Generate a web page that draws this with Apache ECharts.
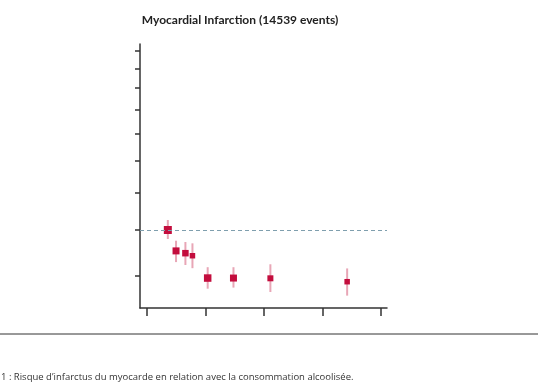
<!DOCTYPE html>
<html><head><meta charset="utf-8">
<script src="https://cdn.jsdelivr.net/npm/echarts@6/dist/echarts.min.js"></script>
<style>html,body{margin:0;padding:0;background:#fff}#c{width:538px;height:384px}</style>
</head><body><div id="c"></div>
<script>
// Data (x: exposure, estimate and 95% CI as ratios)
const xValues   = [3.6, 5.0, 6.6, 7.8, 10.4, 14.8, 21.1, 34.2];
const estimates = [1.00, 0.903, 0.893, 0.882, 0.791, 0.791, 0.790, 0.777];
const lowerCI   = [0.957, 0.855, 0.843, 0.830, 0.751, 0.755, 0.739, 0.726];
const upperCI   = [1.050, 0.949, 0.943, 0.937, 0.834, 0.834, 0.846, 0.829];
const yTickValues = [0.8, 1.0, 1.2, 1.4, 1.6, 1.8, 2.0, 2.2, 2.4];
const xTickValues = [0, 10, 20, 30, 40];
const titleText = 'Myocardial Infarction (14539 events)';
const captionText = '1 : Risque d\u2019infarctus du myocarde en relation avec la consommation alcoolisée.';
const markerSizes = [8, 7, 6.5, 5.5, 7.5, 7, 6, 5.5];

const L = Math.log;
const pts = xValues.map((x, i) => [x, L(estimates[i])]);
const bars = xValues.map((x, i) => [x, L(lowerCI[i]), L(upperCI[i])]);

const chart = echarts.init(document.getElementById('c'));
chart.setOption({
  animation: false,
  title: [{
    text: titleText, left: 235, top: 9, textAlign: 'center',
    textStyle: {fontFamily: 'Lato', fontWeight: 'bold', fontSize: 12, color: '#222'}
  }, {
    text: captionText, left: -4, top: 367,
    textStyle: {fontFamily: 'Open Sans', fontWeight: 'normal', fontSize: 9.5, color: '#333'}
  }],
  graphic: [{type: 'line', shape: {x1: 0, y1: 334, x2: 538, y2: 334}, style: {stroke: '#333', lineWidth: 1}}],
  grid: {left: 140, right: 151, top: 44, bottom: 76},
  xAxis: {
    type: 'value', min: -1.15, max: 41,
    splitLine: {show: false},
    axisLine: {onZero: false, lineStyle: {color: '#333', width: 1.5}},
    axisTick: {customValues: xTickValues, length: 8, lineStyle: {color: '#333', width: 1.5}},
    axisLabel: {show: false}
  },
  yAxis: {
    type: 'value', min: L(0.6835), max: L(2.477),
    splitLine: {show: false},
    axisLine: {show: true, onZero: false, lineStyle: {color: '#333', width: 1.5}},
    axisTick: {show: true, customValues: yTickValues.map(L), length: 5, lineStyle: {color: '#333', width: 1.5}},
    axisLabel: {show: false}
  },
  series: [{
    type: 'custom',
    data: bars,
    renderItem: function (params, api) {
      const a = api.coord([api.value(0), api.value(1)]);
      const b = api.coord([api.value(0), api.value(2)]);
      return {type: 'line', shape: {x1: a[0], y1: a[1], x2: b[0], y2: b[1]},
        style: {stroke: '#e8a6b6', lineWidth: 2}};
    },
    z: 2
  }, {
    type: 'scatter',
    data: pts,
    symbol: 'rect',
    symbolSize: function (v, p) { return markerSizes[p.dataIndex]; },
    itemStyle: {color: '#c30d3d', opacity: 1},
    z: 3,
    markLine: {
      silent: true, symbol: 'none', label: {show: false},
      lineStyle: {color: '#7f9fae', type: [4, 3], width: 1},
      data: [{yAxis: 0}]
    }
  }]
});
</script></body></html>
